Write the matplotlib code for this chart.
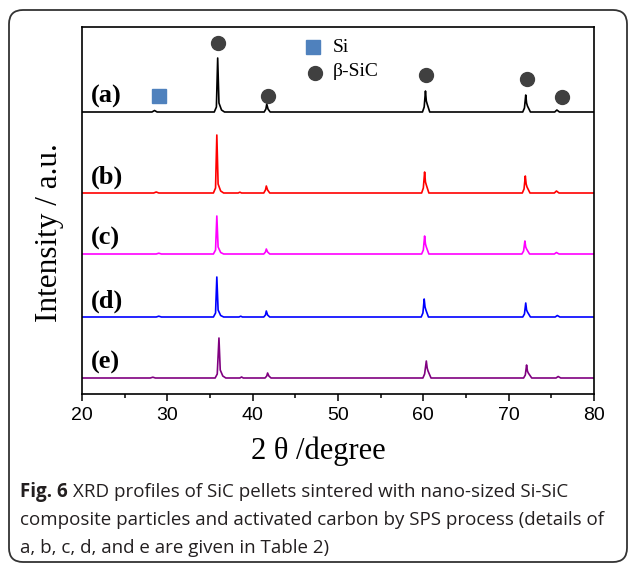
import matplotlib.pyplot as plt
from matplotlib.patches import FancyBboxPatch
from matplotlib.transforms import IdentityTransform

# XRD patterns, (2theta, intensity) vertices for each sample
a_x = [20, 28.2, 28.5, 28.8, 35.5, 35.75, 35.9, 36.05, 36.35, 36.7, 41.35, 41.55, 41.65, 41.8, 42.05,
       59.9, 60.1, 60.25, 60.35, 60.45, 60.75, 71.65, 71.85, 72.0, 72.1, 72.2, 72.55, 75.4, 75.65, 75.95, 80]
a_y = [0, 0, 1.5, 0, 0, 5, 54, 9, 2, 0, 0, 3, 8, 3, 0,
       0, 5, 21, 11, 8, 0, 0, 4, 17, 9, 6, 0, 0, 2, 0, 0]

b_x = [20, 28.4, 28.7, 29.0, 35.4, 35.65, 35.8, 35.95, 36.25, 36.6, 38.3, 38.5, 38.7, 41.3, 41.5, 41.6, 41.75, 42.0,
       59.8, 60.0, 60.15, 60.25, 60.35, 60.65, 71.6, 71.8, 71.95, 72.05, 72.15, 72.5, 75.35, 75.6, 75.9, 80]
b_y = [0, 0, 1, 0, 0, 5, 58, 9, 2, 0, 0, 0.8, 0, 0, 3, 7, 3, 0,
       0, 5, 21, 11, 8, 0, 0, 4, 17, 9, 6, 0, 0, 2, 0, 0]

c_x = [20, 28.7, 29.0, 29.3, 35.4, 35.65, 35.8, 35.95, 36.25, 36.6, 41.3, 41.5, 41.6, 41.75, 42.0,
       59.8, 60.0, 60.15, 60.25, 60.35, 60.65, 71.55, 71.75, 71.9, 72.0, 72.1, 72.45, 75.35, 75.6, 75.9, 80]
c_y = [0, 0, 0.8, 0, 0, 4, 38, 7, 1.5, 0, 0, 2, 5, 2, 0,
       0, 4, 18, 10, 7, 0, 0, 3, 13, 7, 5, 0, 0, 1.5, 0, 0]

d_x = [20, 28.7, 29.0, 29.3, 35.4, 35.65, 35.8, 35.95, 36.25, 36.6, 38.4, 38.6, 38.8, 41.3, 41.5, 41.6, 41.75, 42.0,
       59.75, 59.95, 60.1, 60.2, 60.3, 60.6, 71.65, 71.85, 72.0, 72.1, 72.2, 72.55, 75.45, 75.7, 76.0, 80]
d_y = [0, 0, 0.8, 0, 0, 4, 40, 7, 1.5, 0, 0, 0.8, 0, 0, 2, 6, 2, 0,
       0, 4, 18, 10, 7, 0, 0, 3, 14, 7, 5, 0, 0, 1.5, 0, 0]

e_x = [20, 28.0, 28.3, 28.6, 35.6, 35.85, 36.05, 36.2, 36.5, 36.85, 38.5, 38.7, 38.9, 41.45, 41.65, 41.75, 41.9, 42.15,
       59.95, 60.15, 60.35, 60.45, 60.55, 60.9, 71.75, 71.95, 72.1, 72.2, 72.3, 72.7, 75.55, 75.8, 76.1, 80]
e_y = [0, 0, 0.8, 0, 0, 4, 40, 8, 2, 0, 0, 1, 0, 0, 2, 5, 2, 0,
       0, 4, 17, 10, 7, 0, 0, 3, 13, 7, 5, 0, 0, 1.5, 0, 0]

series = [("(a)", a_x, a_y, "black"),
          ("(b)", b_x, b_y, "#ff0000"),
          ("(c)", c_x, c_y, "#ff00ff"),
          ("(d)", d_x, d_y, "#0000ff"),
          ("(e)", e_x, e_y, "#800080")]
offsets = [282, 201, 140, 77, 16]

# phase markers above pattern (a)
sic_x = [35.9, 41.75, 60.3, 72.1, 76.3]
sic_y = [351, 298, 319, 315, 297]
si_x = [29.0]
si_y = [298]

fig = plt.figure(figsize=(6.3, 5.65), dpi=100)
ax = fig.add_axes([82 / 630, 1 - 394 / 565, 512 / 630, 367 / 565])

for (label, x, y, color), off in zip(series, offsets):
    ax.plot(x, [v + off for v in y], color=color, lw=1.2)
    ax.text(21.0, off + 16, label, fontfamily="Liberation Serif", fontweight="bold",
            fontsize=19, va="center", ha="left")

ax.plot(sic_x, sic_y, "o", color="#404040", ms=10, ls="none")
ax.plot(si_x, si_y, "s", color="#4f81bd", ms=10, ls="none")

# legend drawn by hand
ax.plot([47.1], [347], "s", color="#4f81bd", ms=10)
ax.plot([47.3], [321], "o", color="#404040", ms=10)
ax.text(49.4, 347, "Si", fontfamily="Liberation Serif", fontsize=14, va="center")
ax.text(49.4, 322, "β-SiC", fontfamily="Liberation Serif", fontsize=14, va="center")

ax.set_xlim(20, 80)
ax.set_ylim(0, 367)
ax.set_xticks([20, 30, 40, 50, 60, 70, 80])
ax.set_xticks([25, 35, 45, 55, 65, 75], minor=True)
ax.set_yticks([])
ax.tick_params(axis="x", direction="out", length=5, width=1.1, labelsize=14, pad=4)
ax.tick_params(axis="x", which="minor", direction="out", length=3, width=1.1)
for lab in ax.get_xticklabels():
    lab.set_fontfamily("Liberation Sans")
for sp in ax.spines.values():
    sp.set_linewidth(1.2)

ax.set_xlabel("2 θ /degree", fontfamily="Liberation Serif", fontsize=22)
ax.xaxis.set_label_coords(0.461, -0.117)
ax.set_ylabel("Intensity / a.u.", fontfamily="Liberation Serif", fontsize=22.5)
ax.yaxis.set_label_coords(-0.035, 0.441)

# caption
cap_color = "#231f20"
cap_size = 13.5
renderer = fig.canvas.get_renderer()
t = fig.text(20 / 630, 1 - 492 / 565, "Fig. 6", fontfamily="Open Sans", fontweight="bold",
             fontsize=cap_size, color=cap_color, va="center")
bb = t.get_window_extent(renderer)
fig.text((bb.x1 + 5) / 630, 1 - 492 / 565,
         "XRD profiles of SiC pellets sintered with nano-sized Si-SiC",
         fontfamily="Open Sans", fontsize=cap_size, color=cap_color, va="center")
fig.text(20 / 630, 1 - 520 / 565,
         "composite particles and activated carbon by SPS process (details of",
         fontfamily="Open Sans", fontsize=cap_size, color=cap_color, va="center")
fig.text(20 / 630, 1 - 548 / 565, "a, b, c, d, and e are given in Table 2)",
         fontfamily="Open Sans", fontsize=cap_size, color=cap_color, va="center")

# rounded frame around figure and caption
frame = FancyBboxPatch((9, 3), 618, 552, boxstyle="round,pad=0,rounding_size=14",
                       transform=IdentityTransform(), fill=False, lw=1.3, ec="#333333")
fig.patches.append(frame)

fig.savefig("out.png", dpi=100)
